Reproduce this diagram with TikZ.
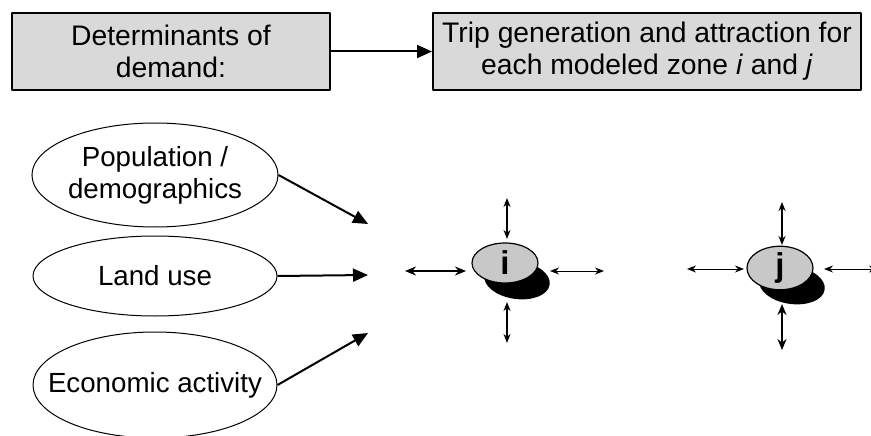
\documentclass[tikz,border=0pt]{standalone}
\usepackage{fontspec}
\setmainfont{Liberation Sans}
\usetikzlibrary{arrows.meta, shapes.geometric}
\definecolor{boxfill}{HTML}{D9D9D9}
\definecolor{zonefill}{HTML}{C8C8C8}

\begin{document}
\begin{tikzpicture}[
    x=1pt, y=-1pt,
    line join=round,
    headbox/.style={draw=black, fill=boxfill, line width=2pt, inner sep=0pt,
        minimum height=77pt, align=center, font=\fontsize{28.3}{32}\selectfont},
    factor/.style={ellipse, draw=black, line width=1pt, inner sep=0pt,
        minimum width=244pt, align=center, font=\fontsize{27.7}{32}\selectfont},
    zone/.style={ellipse, draw=black, fill=zonefill, line width=1.2pt, inner sep=0pt,
        minimum width=66pt, minimum height=40pt, font=\fontsize{33}{33}\selectfont\bfseries},
    feed/.style={line width=2pt, -{Triangle[length=15pt,width=13pt]}},
    flowthin/.style={line width=1pt, {Stealth[length=9pt,width=7pt]}-{Stealth[length=9pt,width=7pt]}},
    flowthick/.style={line width=2.6pt, {Stealth[length=11pt,width=9pt]}-{Stealth[length=11pt,width=9pt]}}
]
    \useasboundingbox (0,0) rectangle (871,436);

    % Header boxes
    \node[headbox, minimum width=318pt] (demand) at (171,51.5) {Determinants of\\demand:};
    \node[headbox, minimum width=428pt] (tripgen) at (647,51.5)
        {Trip generation and attraction for\\each modeled zone \textit{i} and \textit{j}};
    \draw[feed] (demand) -- (tripgen);

    % Determinants (ellipses on the left)
    \node[factor, minimum height=104pt] (popul) at (155,175) {Population /\\demographics};
    \node[factor, minimum height=80pt] (landuse) at (155,276) {Land use};
    \node[factor, minimum height=106pt, inner xsep=-22pt] (econ) at (155,385) {Economic activity};

    \coordinate (inA) at (368,224);
    \coordinate (inB) at (368,275);
    \coordinate (inC) at (368,333);
    \draw[feed] (popul.east) -- (inA);
    \draw[feed] (landuse.east) -- (inB);
    \draw[feed] (econ.east) -- (inC);

    % --- ZONE i ---
    \fill[black, rotate around={-8:(517,280)}] (517,280) ellipse [x radius=33, y radius=19]; % Shadow
    \node[zone] (zi) at (505,263) {i};
    \coordinate (iW1) at (405,271); \coordinate (iW2) at (466,271);
    \coordinate (iE1) at (550,271); \coordinate (iE2) at (604,271);
    \coordinate (iN1) at (507,198); \coordinate (iN2) at (507,239);
    \coordinate (iS1) at (507,302); \coordinate (iS2) at (507,343);
    \draw[flowthick] (iW1) -- (iW2);
    \draw[flowthin] (iE1) -- (iE2);
    \draw[flowthin, line width=1.6pt] (iN1) -- (iN2);
    \draw[flowthin, line width=1.6pt] (iS1) -- (iS2);

    % --- ZONE j ---
    \fill[black, rotate around={-8:(792,285)}] (792,285) ellipse [x radius=33, y radius=19]; % Shadow
    \node[zone] (zj) at (780,268) {j};
    \coordinate (jW1) at (687,269); \coordinate (jW2) at (744,269);
    \coordinate (jE1) at (824,269); \coordinate (jE2) at (878,269);
    \coordinate (jN1) at (782,202); \coordinate (jN2) at (782,245);
    \coordinate (jS1) at (782,304); \coordinate (jS2) at (782,350);
    \draw[flowthin] (jW1) -- (jW2);
    \draw[flowthin] (jE1) -- (jE2);
    \draw[flowthin, line width=1.6pt] (jN1) -- (jN2);
    \draw[flowthick] (jS1) -- (jS2);

\end{tikzpicture}
\end{document}
